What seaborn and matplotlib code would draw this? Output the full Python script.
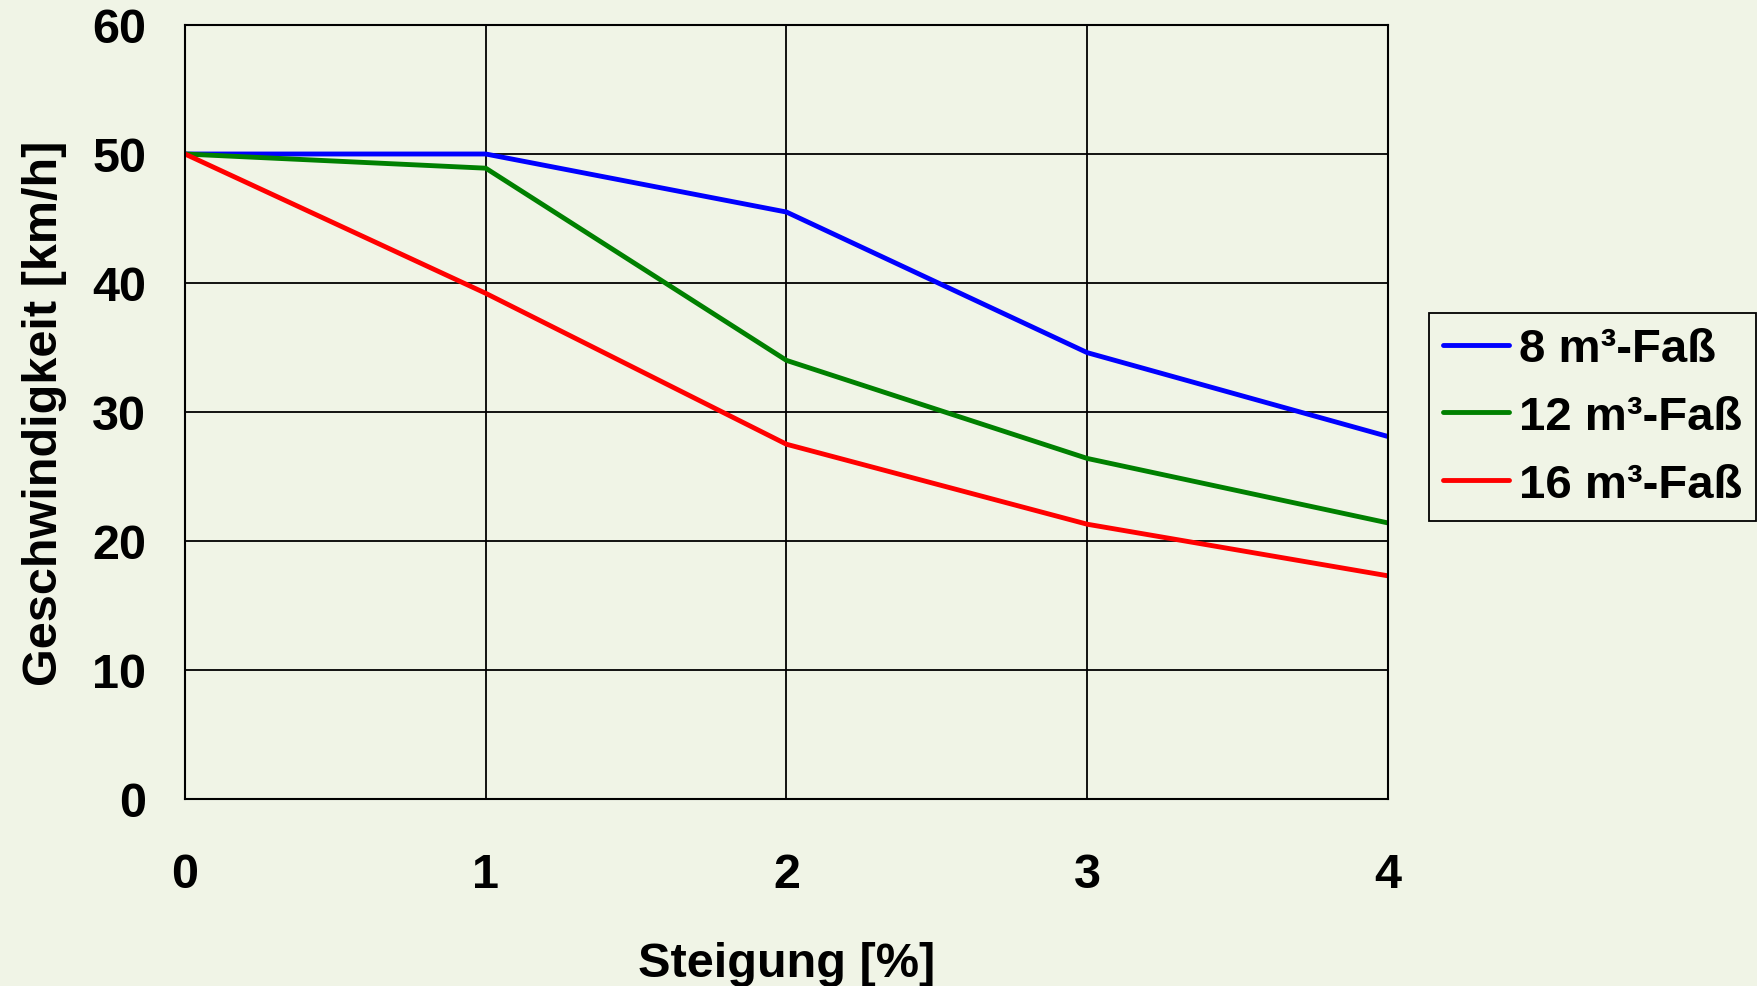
import pandas as pd
import numpy as np
import matplotlib
matplotlib.use("Agg")
import matplotlib.pyplot as plt
import seaborn as sns

# Daten
steigung = [0, 1, 2, 3, 4]
v_8 = [50.0, 50.0, 45.5, 34.6, 28.1]
v_12 = [50.0, 48.9, 34.0, 26.4, 21.4]
v_16 = [50.0, 39.2, 27.5, 21.3, 17.3]
serien = ["8 m³-Faß", "12 m³-Faß", "16 m³-Faß"]
farben = ["#0000FF", "#008000", "#FF0000"]

df = pd.DataFrame({
    "Steigung": steigung * 3,
    "v": v_8 + v_12 + v_16,
    "Fass": [serien[0]] * 5 + [serien[1]] * 5 + [serien[2]] * 5,
})

bg = "#F0F4E6"
sns.set_style("white")
plt.rcParams["font.family"] = ["Liberation Sans", "DejaVu Sans"]
plt.rcParams["font.weight"] = "bold"
plt.rcParams["text.color"] = "black"
plt.rcParams["axes.labelcolor"] = "black"
plt.rcParams["xtick.color"] = "black"
plt.rcParams["ytick.color"] = "black"

fs = 35
fig = plt.figure(figsize=(17.58, 9.87), dpi=100, facecolor=bg)
ax = fig.add_axes([185 / 1758, 1 - 800 / 987, (1388 - 185) / 1758, (800 - 26) / 987])
ax.set_facecolor(bg)

sns.lineplot(data=df, x="Steigung", y="v", hue="Fass", palette=farben,
             hue_order=serien, linewidth=3.5, ax=ax, legend=True)

ax.set_xlim(0, 4)
ax.set_ylim(0, 60)
ax.set_xticks(steigung)
ax.set_yticks(range(0, 61, 10))
ax.grid(True, color="black", linewidth=1.3)
for s in ax.spines.values():
    s.set_color("black")
    s.set_linewidth(1.5)
ax.tick_params(axis="x", length=0, pad=38, labelsize=fs)
ax.tick_params(axis="y", length=0, pad=28, labelsize=fs)
for lab in ax.get_xticklabels() + ax.get_yticklabels():
    lab.set_fontweight("bold")

ax.set_xlabel("Steigung [%]", fontsize=fs, fontweight="bold", labelpad=32)
ax.set_ylabel("Geschwindigkeit [km/h]", fontsize=fs, fontweight="bold", labelpad=18)

leg = ax.legend(loc="center left", bbox_to_anchor=(1429 / 1758, 1 - 418 / 987),
                bbox_transform=fig.transFigure, fontsize=34, frameon=True,
                fancybox=False, edgecolor="black", facecolor=bg, framealpha=1,
                handlelength=1.4, handletextpad=0.2, borderpad=0.3, labelspacing=0.5,
                borderaxespad=0)
leg.get_frame().set_linewidth(1.3)
for t in leg.get_texts():
    t.set_fontweight("bold")

fig.savefig("out.png", dpi=100, facecolor=bg)
